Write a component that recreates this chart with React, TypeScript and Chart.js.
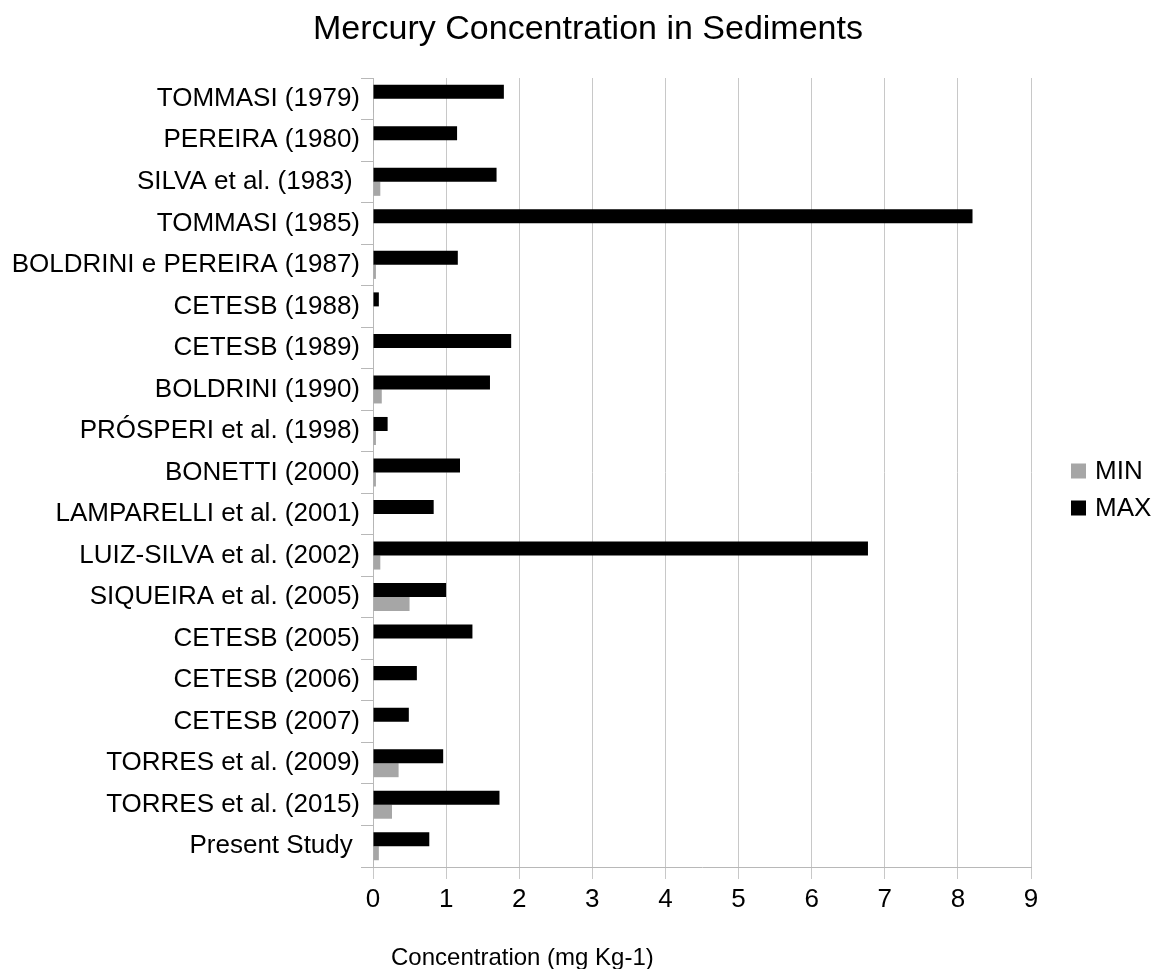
import React, { useEffect, useRef } from "react";
import { Chart, registerables } from "chart.js";

Chart.register(...registerables);

const chartTitle = "Mercury Concentration in Sediments";
const xAxisTitle = "Concentration (mg Kg-1)";

const categories = [
  "TOMMASI (1979)",
  "PEREIRA (1980)",
  "SILVA et al. (1983) ",
  "TOMMASI (1985)",
  "BOLDRINI e PEREIRA (1987)",
  "CETESB (1988)",
  "CETESB (1989)",
  "BOLDRINI (1990)",
  "PRÓSPERI et al. (1998)",
  "BONETTI (2000)",
  "LAMPARELLI et al. (2001)",
  "LUIZ-SILVA et al. (2002)",
  "SIQUEIRA et al. (2005)",
  "CETESB (2005)",
  "CETESB (2006)",
  "CETESB (2007)",
  "TORRES et al. (2009)",
  "TORRES et al. (2015)",
  "Present Study ",
];

const maxValues = [1.79, 1.15, 1.69, 8.2, 1.16, 0.08, 1.89, 1.6, 0.2, 1.19, 0.83, 6.77, 1.0, 1.36, 0.6, 0.49, 0.96, 1.73, 0.77];
const minValues = [0.01, 0.01, 0.1, 0, 0.04, 0, 0, 0.12, 0.04, 0.04, 0.005, 0.1, 0.5, 0, 0, 0, 0.35, 0.26, 0.08];

const xTicks = [0, 1, 2, 3, 4, 5, 6, 7, 8, 9];
const legendOrder = ["MIN", "MAX"];

const FONT = "'Liberation Sans', Arial, sans-serif";

export default function App() {
  const ref = useRef<HTMLCanvasElement | null>(null);

  useEffect(() => {
    if (!ref.current) return;
    const extras = {
      id: "extras",
      afterDraw(chart: any) {
        const ctx = chart.ctx;
        const area = chart.chartArea;
        ctx.save();
        ctx.fillStyle = "#000";
        ctx.textBaseline = "middle";
        // chart title
        ctx.font = `34px ${FONT}`;
        ctx.textAlign = "center";
        ctx.fillText(chartTitle, 588, 30);
        // x axis title
        ctx.font = `24px ${FONT}`;
        ctx.textAlign = "left";
        ctx.fillText(xAxisTitle, area.left + 18, 958);
        // legend
        const items = legendOrder.map((name) => chart.data.datasets.find((d: any) => d.label === name));
        items.forEach((ds: any, i: number) => {
          const cy = 471 + i * 37;
          ctx.fillStyle = ds.backgroundColor;
          ctx.fillRect(area.right + 40, cy - 7.5, 15, 15);
          ctx.fillStyle = "#000";
          ctx.font = `26px ${FONT}`;
          ctx.fillText(ds.label, area.right + 64, cy + 1);
        });
        ctx.restore();
      },
    };

    const chart = new Chart(ref.current, {
      type: "bar",
      data: {
        labels: categories,
        datasets: [
          { label: "MAX", data: maxValues, backgroundColor: "#000000", barPercentage: 1, categoryPercentage: 0.675 },
          { label: "MIN", data: minValues, backgroundColor: "#a6a6a6", barPercentage: 1, categoryPercentage: 0.675 },
        ],
      },
      options: {
        indexAxis: "y",
        responsive: false,
        animation: false,
        devicePixelRatio: 1,
        layout: { padding: { left: 8, right: 124, top: 78, bottom: 0 } },
        plugins: {
          legend: { display: false },
          tooltip: { enabled: false },
          title: { display: false },
        },
        scales: {
          x: {
            min: 0,
            max: 9,
            afterBuildTicks: (s: any) => {
              s.ticks = xTicks.map((v) => ({ value: v }));
            },
            afterFit: (s: any) => {
              s.height = 102;
            },
            ticks: { color: "#000", font: { family: FONT, size: 26 }, padding: 5 },
            grid: { color: "#c8c8c8", lineWidth: 1, tickLength: 12 },
            border: { color: "#b8b8b8" },
          },
          y: {
            afterFit: (s: any) => {
              s.width = 365;
            },
            ticks: { color: "#000", font: { family: FONT, size: 26 }, padding: 1 },
            grid: { drawOnChartArea: false, drawTicks: true, tickLength: 12, color: "#b8b8b8", offset: true },
            border: { color: "#b8b8b8" },
          },
        },
      },
      plugins: [extras],
    });
    return () => chart.destroy();
  }, []);

  return (
    <div style={{ position: "fixed", left: 0, top: 0, width: 1155, height: 969, background: "#fff" }}>
      <canvas ref={ref} width={1155} height={969} style={{ width: 1155, height: 969 }} />
    </div>
  );
}
